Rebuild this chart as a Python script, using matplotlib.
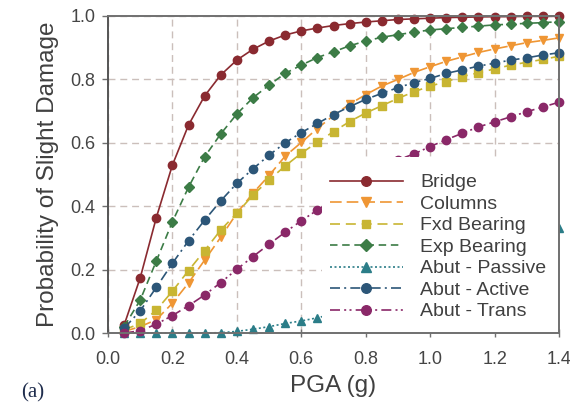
import matplotlib
matplotlib.use("Agg")
import matplotlib.pyplot as plt
from matplotlib.patches import Rectangle

# PGA levels (g)
pga = [0.05, 0.10, 0.15, 0.20, 0.25, 0.30, 0.35, 0.40, 0.45, 0.50, 0.55, 0.60, 0.65, 0.70,
       0.75, 0.80, 0.85, 0.90, 0.95, 1.00, 1.05, 1.10, 1.15, 1.20, 1.25, 1.30, 1.35, 1.40]

# probability of slight damage
bridge = [0.025, 0.174, 0.364, 0.530, 0.656, 0.748, 0.814, 0.861, 0.895, 0.921, 0.940, 0.953, 0.962, 0.970,
          0.976, 0.981, 0.985, 0.989, 0.991, 0.993, 0.995, 0.996, 0.997, 0.998, 0.998, 0.999, 0.999, 0.999]
columns = [0.005, 0.020, 0.042, 0.094, 0.158, 0.230, 0.302, 0.378, 0.441, 0.497, 0.558, 0.601, 0.645, 0.686,
           0.722, 0.752, 0.779, 0.800, 0.822, 0.840, 0.857, 0.871, 0.885, 0.896, 0.906, 0.916, 0.923, 0.931]
fxd_bearing = [0.010, 0.030, 0.072, 0.132, 0.197, 0.260, 0.325, 0.378, 0.435, 0.483, 0.527, 0.567, 0.602, 0.635,
               0.667, 0.694, 0.717, 0.740, 0.761, 0.779, 0.793, 0.809, 0.821, 0.833, 0.845, 0.854, 0.863, 0.873]
exp_bearing = [0.020, 0.104, 0.227, 0.351, 0.460, 0.556, 0.628, 0.691, 0.742, 0.782, 0.819, 0.845, 0.869, 0.887,
               0.906, 0.921, 0.933, 0.941, 0.949, 0.956, 0.960, 0.964, 0.968, 0.972, 0.974, 0.977, 0.979, 0.982]
abut_passive = [0.0, 0.0, 0.0, 0.0, 0.0, 0.0, 0.001, 0.005, 0.012, 0.020, 0.030, 0.038, 0.048, 0.060,
                0.075, 0.090, 0.105, 0.125, 0.140, 0.160, 0.180, 0.200, 0.220, 0.240, 0.265, 0.285, 0.310, 0.330]
abut_active = [0.015, 0.070, 0.144, 0.220, 0.291, 0.356, 0.417, 0.472, 0.518, 0.561, 0.600, 0.632, 0.661, 0.689,
               0.714, 0.737, 0.756, 0.774, 0.790, 0.803, 0.819, 0.830, 0.842, 0.851, 0.861, 0.868, 0.877, 0.884]
abut_trans = [0.0, 0.007, 0.028, 0.055, 0.086, 0.120, 0.159, 0.201, 0.241, 0.280, 0.318, 0.354, 0.388, 0.420,
              0.455, 0.488, 0.518, 0.546, 0.565, 0.588, 0.610, 0.630, 0.650, 0.666, 0.682, 0.698, 0.713, 0.728]

xticks = [0.0, 0.2, 0.4, 0.6, 0.8, 1.0, 1.2, 1.4]
yticks = [0.0, 0.2, 0.4, 0.6, 0.8, 1.0]

plt.rcParams['font.family'] = ['Liberation Sans', 'DejaVu Sans']

fig = plt.figure(figsize=(5.7, 4.05), dpi=100)
ax = fig.add_axes([108 / 570, 1 - 333 / 405, 451 / 570, 317 / 405])

series = [
    (bridge, 'Bridge', '#8a2a30', 'o', '-', 6.0),
    (columns, 'Columns', '#ef9634', 'v', (0, (7, 3)), 6.0),
    (fxd_bearing, 'Fxd Bearing', '#c8b532', 's', (0, (6, 3.5)), 5.5),
    (exp_bearing, 'Exp Bearing', '#3c7c46', 'D', (0, (4.5, 2.8)), 5.2),
    (abut_passive, 'Abut - Passive', '#2b7d88', '^', (0, (1.2, 1.5)), 6.0),
    (abut_active, 'Abut - Active', '#2c5678', 'o', (0, (6, 2.5, 1.2, 2.5)), 6.0),
    (abut_trans, 'Abut - Trans', '#8a2868', 'o', (0, (6, 2.5, 1.2, 2, 1.2, 2.5)), 6.0),
]

for vals, name, col, mk, ls, ms in series:
    ax.plot(pga, vals, color=col, linestyle=ls, linewidth=1.2, marker=mk, markersize=ms,
            markerfacecolor=col, markeredgecolor=col, label=name, clip_on=False, zorder=2)

# white box behind the legend hides the curves there
ax.add_patch(Rectangle((0.4745, 0.0), 0.5255, 0.555, transform=ax.transAxes,
                       facecolor='white', edgecolor='none', zorder=3, clip_on=False))

ax.set_xlim(0, 1.4)
ax.set_ylim(0, 1.0)
ax.set_xticks(xticks)
ax.set_yticks(yticks)
ax.set_xticklabels(['%.1f' % t for t in xticks])
ax.set_yticklabels(['%.1f' % t for t in yticks])

ax.set_axisbelow(True)
ax.grid(True, color='#cbbfbb', linestyle=(0, (5, 3.5)), linewidth=1.0)

for side in ['left', 'bottom', 'top', 'right']:
    ax.spines[side].set_color('#707070')
    ax.spines[side].set_linewidth(1.4)
    ax.spines[side].set_zorder(4)
ax.spines['left'].set_color('#555555')

ax.tick_params(axis='x', direction='inout', length=6, width=1.0, color='#707070',
               labelsize=13, labelcolor='#454545', pad=10)
ax.tick_params(axis='y', direction='out', length=4, width=1.0, color='#707070',
               labelsize=13, labelcolor='#454545', pad=5)

ax.set_xlabel('PGA (g)', fontsize=17.5, color='#404040', labelpad=5)
ax.set_ylabel('Probability of Slight Damage', fontsize=17.5, color='#404040', labelpad=8)

leg = ax.legend(loc='upper left', bbox_to_anchor=(0.492, 0.502), frameon=False, fontsize=14,
                handlelength=3.75, handletextpad=0.9, labelspacing=0.2, numpoints=1,
                borderpad=0, borderaxespad=0, markerscale=1.15)
leg.set_zorder(5)
for t in leg.get_texts():
    t.set_color('#404040')

fig.text(21 / 570, 1 - 397 / 405, '(a)', fontsize=15, family='Liberation Serif',
         color='#1f2d4d', va='baseline', ha='left')

fig.savefig('out.png', dpi=100)
